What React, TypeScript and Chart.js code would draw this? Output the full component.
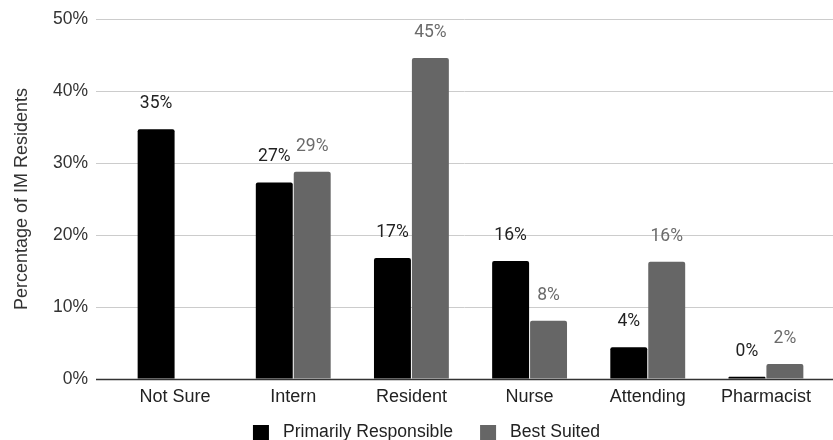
import React, { useEffect, useRef } from "react";
import { Chart, registerables } from "chart.js";

Chart.register(...registerables);

const categories = ["Not Sure", "Intern", "Resident", "Nurse", "Attending", "Pharmacist"];
const primarilyResponsible = [34.7, 27.3, 16.8, 16.4, 4.4, 0.3];
const bestSuited: (number | null)[] = [null, 28.8, 44.6, 8.1, 16.3, 2.1];
const yTicks = [0, 10, 20, 30, 40, 50];
const seriesColors = ["#000000", "#666666"];
const valueLabelColors = ["#222222", "#6b6b6b"];

const TICK_FONT = "'Liberation Sans', Arial, sans-serif";
const LABEL_FONT = "Roboto, 'Liberation Sans', sans-serif";

// Horizontal grid lines run a little beyond the bar area on both sides.
const gridPlugin = {
  id: "wideGrid",
  beforeDatasetsDraw(chart: any) {
    const { ctx, scales } = chart;
    const y = scales.y;
    const x0 = 96;
    const x1 = chart.width;
    ctx.save();
    y.ticks.forEach((t: any) => {
      const py = Math.round(y.getPixelForValue(t.value)) + 0.5;
      const base = t.value === 0;
      ctx.strokeStyle = base ? "#333333" : "#cccccc";
      ctx.lineWidth = base ? 1.5 : 1;
      ctx.beginPath();
      ctx.moveTo(x0, py);
      ctx.lineTo(x1, py);
      ctx.stroke();
    });
    ctx.restore();
  },
};

// Percentage labels floating above each bar.
const valueLabelPlugin = {
  id: "valueLabels",
  afterDatasetsDraw(chart: any) {
    const { ctx } = chart;
    ctx.save();
    ctx.font = `17.5px ${LABEL_FONT}`;
    ctx.textAlign = "center";
    ctx.textBaseline = "middle";
    chart.data.datasets.forEach((ds: any, di: number) => {
      const meta = chart.getDatasetMeta(di);
      meta.data.forEach((bar: any, i: number) => {
        const v = ds.data[i];
        if (v === null || v === undefined) return;
        ctx.fillStyle = valueLabelColors[di];
        ctx.fillText(`${Math.round(v)}%`, bar.x, bar.y - 25.5);
      });
    });
    ctx.restore();
  },
};

// Legend row under the axis: square swatch, gap, series name.
const bottomLegendPlugin = {
  id: "bottomLegend",
  afterDraw(chart: any) {
    const { ctx } = chart;
    const box = 16;
    const gap = 14;
    const itemGap = 27;
    const cy = 432;
    ctx.save();
    ctx.font = `17.6px ${TICK_FONT}`;
    ctx.textBaseline = "middle";
    ctx.textAlign = "left";
    const items = chart.data.datasets.map((ds: any) => ({
      text: ds.label,
      color: ds.backgroundColor,
      w: box + gap + ctx.measureText(ds.label).width,
    }));
    const total = items.reduce((s: number, it: any) => s + it.w, 0) + itemGap * (items.length - 1);
    let x = (chart.width + 20) / 2 - total / 2;
    items.forEach((it: any) => {
      ctx.fillStyle = it.color;
      ctx.fillRect(x, cy - 7, box, box);
      ctx.fillStyle = "#222222";
      ctx.fillText(it.text, x + box + gap, cy);
      x += it.w + itemGap;
    });
    ctx.restore();
  },
};

export default function App() {
  const canvasRef = useRef<HTMLCanvasElement | null>(null);

  useEffect(() => {
    document.body.style.margin = "0";
    document.body.style.overflow = "hidden";
    document.documentElement.style.overflow = "hidden";
    if (!canvasRef.current) return;
    const chart = new Chart(canvasRef.current, {
      type: "bar",
      data: {
        labels: categories,
        datasets: [
          {
            label: "Primarily Responsible",
            data: primarilyResponsible,
            backgroundColor: seriesColors[0],
            borderRadius: 2,
            borderSkipped: "bottom",
            barPercentage: 0.974,
            categoryPercentage: 0.642,
          },
          {
            label: "Best Suited",
            data: bestSuited,
            backgroundColor: seriesColors[1],
            borderRadius: 2,
            borderSkipped: "bottom",
            barPercentage: 0.974,
            categoryPercentage: 0.642,
          },
        ],
      },
      options: {
        animation: false,
        responsive: false,
        maintainAspectRatio: false,
        layout: { padding: { top: 19, right: 8, left: 0, bottom: 31 } },
        plugins: {
          legend: { display: false },
          tooltip: { enabled: false },
        },
        scales: {
          x: {
            grid: { display: false, drawTicks: false },
            border: { display: false },
            afterFit(scale: any) {
              scale.height = 30;
            },
            ticks: {
              color: "#222222",
              padding: 7,
              font: { family: TICK_FONT, size: 18 },
            },
          },
          y: {
            min: 0,
            max: 50,
            afterBuildTicks(scale: any) {
              scale.ticks = yTicks.map((v) => ({ value: v }));
            },
            afterFit(scale: any) {
              scale.width = 116;
            },
            grid: { display: true, color: "rgba(0,0,0,0)", drawTicks: true, tickLength: 28 },
            border: { display: false },
            ticks: {
              color: "#333333",
              padding: 0,
              font: { family: TICK_FONT, size: 17.5 },
              callback: (v: any) => `${v}%`,
            },
            title: {
              display: true,
              text: "Percentage of IM Residents",
              color: "#333333",
              font: { family: TICK_FONT, size: 18 },
              padding: { top: 11, bottom: 0 },
            },
          },
        },
      },
      plugins: [gridPlugin, valueLabelPlugin, bottomLegendPlugin],
    });
    return () => chart.destroy();
  }, []);

  return (
    <div style={{ width: 833, height: 440, background: "#ffffff" }}>
      <canvas ref={canvasRef} width={833} height={440} />
    </div>
  );
}
